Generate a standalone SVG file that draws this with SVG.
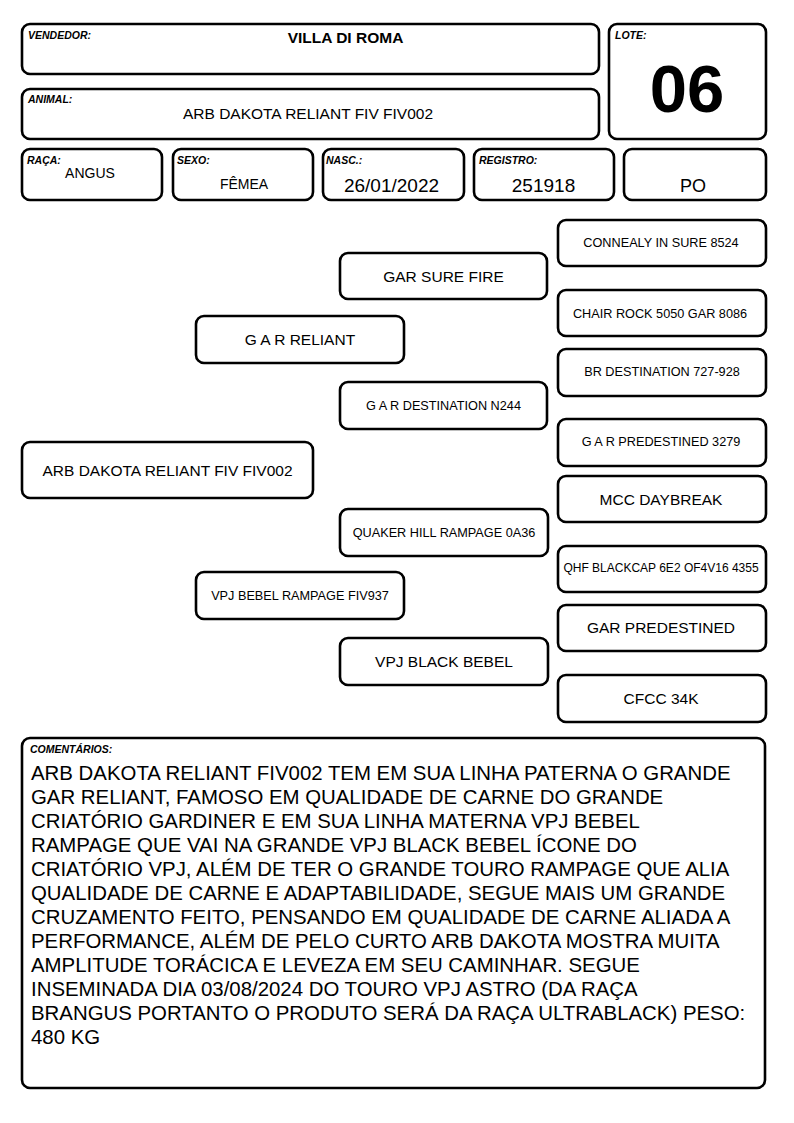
<svg xmlns="http://www.w3.org/2000/svg" width="794" height="1123" viewBox="0 0 794 1123">
<style>
.box{fill:#fff;stroke:#000;stroke-width:2.6}
.lbl{font-family:"Liberation Sans",Arial,sans-serif;font-weight:bold;font-style:italic;font-size:10.5px;fill:#000}
.val{font-family:"Liberation Sans",Arial,sans-serif;fill:#000;text-anchor:middle}
.big{font-size:15.5px}
.sm{font-size:12.7px}
.cm{font-family:"Liberation Sans",Arial,sans-serif;font-size:20.4px;fill:#000}
</style>
<rect width="794" height="1123" fill="#fff"/>
<g id="vendedor">
<rect class="box" x="22" y="24" width="577" height="50" rx="8"/>
<text class="lbl" x="28" y="39">VENDEDOR:</text>
<text class="val" x="345.5" y="43" font-size="15.5" font-weight="bold">VILLA DI ROMA</text>
</g>
<g id="animal">
<rect class="box" x="22" y="89" width="577" height="50" rx="8"/>
<text class="lbl" x="28" y="103">ANIMAL:</text>
<text class="val big" x="308" y="119">ARB DAKOTA RELIANT FIV FIV002</text>
</g>
<g id="lote">
<rect class="box" x="609" y="24" width="157" height="115" rx="8"/>
<text class="lbl" x="615" y="39">LOTE:</text>
<text class="val" x="687" y="112" font-size="67" font-weight="bold">06</text>
</g>
<g id="raca">
<rect class="box" x="22" y="149" width="140" height="51" rx="8"/>
<text class="lbl" x="27" y="164">RAÇA:</text>
<text class="val" x="90" y="178" font-size="14">ANGUS</text>
</g>
<g id="sexo">
<rect class="box" x="173" y="149" width="140" height="51" rx="8"/>
<text class="lbl" x="177" y="164">SEXO:</text>
<text class="val" x="244" y="189" font-size="14">FÊMEA</text>
</g>
<g id="nasc">
<rect class="box" x="323" y="149" width="141" height="51" rx="8"/>
<text class="lbl" x="326" y="164">NASC.:</text>
<text class="val" x="391.5" y="192" font-size="19">26/01/2022</text>
</g>
<g id="registro">
<rect class="box" x="474" y="149" width="140" height="51" rx="8"/>
<text class="lbl" x="479" y="164">REGISTRO:</text>
<text class="val" x="543.5" y="192" font-size="19">251918</text>
</g>
<g id="po">
<rect class="box" x="624" y="149" width="142" height="51" rx="8"/>
<text class="val" x="693" y="192" font-size="18">PO</text>
</g>
<g id="connectors"/>
<g id="n-animal">
<rect class="box" x="22" y="442" width="291" height="56" rx="8"/>
<text class="val big" x="167.5" y="475.5">ARB DAKOTA RELIANT FIV FIV002</text>
</g>
<g id="n-gar-reliant">
<rect class="box" x="196" y="316" width="208" height="47" rx="8"/>
<text class="val big" x="300" y="345">G A R RELIANT</text>
</g>
<g id="n-vpj-bebel-rampage">
<rect class="box" x="196" y="572" width="208" height="47" rx="8"/>
<text class="val sm" x="300" y="600">VPJ BEBEL RAMPAGE FIV937</text>
</g>
<g id="n-gar-sure-fire">
<rect class="box" x="340" y="253" width="207" height="46" rx="8"/>
<text class="val big" x="443.5" y="281.5">GAR SURE FIRE</text>
</g>
<g id="n-gar-destination">
<rect class="box" x="340" y="382" width="207" height="47" rx="8"/>
<text class="val sm" x="443.5" y="410">G A R DESTINATION N244</text>
</g>
<g id="n-quaker-hill">
<rect class="box" x="340" y="509" width="208" height="47" rx="8"/>
<text class="val sm" x="444" y="537">QUAKER HILL RAMPAGE 0A36</text>
</g>
<g id="n-vpj-black-bebel">
<rect class="box" x="340" y="638" width="208" height="47" rx="8"/>
<text class="val big" x="444" y="667">VPJ BLACK BEBEL</text>
</g>
<g id="n-connealy">
<rect class="box" x="558" y="220" width="208" height="46" rx="8"/>
<text class="val sm" x="661" y="247">CONNEALY IN SURE 8524</text>
</g>
<g id="n-chair-rock">
<rect class="box" x="558" y="290" width="208" height="46" rx="8"/>
<text class="val sm" x="660" y="317.5">CHAIR ROCK 5050 GAR 8086</text>
</g>
<g id="n-br-destination">
<rect class="box" x="558" y="349" width="208" height="47" rx="8"/>
<text class="val sm" x="662" y="376">BR DESTINATION 727-928</text>
</g>
<g id="n-gar-predestined-3279">
<rect class="box" x="558" y="419" width="208" height="47" rx="8"/>
<text class="val sm" x="661" y="446">G A R PREDESTINED 3279</text>
</g>
<g id="n-mcc-daybreak">
<rect class="box" x="558" y="476" width="208" height="46" rx="8"/>
<text class="val big" x="661" y="504.5">MCC DAYBREAK</text>
</g>
<g id="n-qhf-blackcap">
<rect class="box" x="558" y="546" width="208" height="46" rx="8"/>
<text class="val" x="661" y="572" font-size="12">QHF BLACKCAP 6E2 OF4V16 4355</text>
</g>
<g id="n-gar-predestined">
<rect class="box" x="558" y="605" width="208" height="46" rx="8"/>
<text class="val big" x="661" y="633">GAR PREDESTINED</text>
</g>
<g id="n-cfcc">
<rect class="box" x="558" y="675" width="208" height="47" rx="8"/>
<text class="val big" x="661" y="703.5">CFCC 34K</text>
</g>
<g id="comentarios">
<rect class="box" x="22" y="738" width="743" height="350" rx="8"/>
<text class="lbl" x="30" y="753">COMENTÁRIOS:</text>
<text class="cm" x="31" y="780">ARB DAKOTA RELIANT FIV002 TEM EM SUA LINHA PATERNA O GRANDE</text>
<text class="cm" x="31" y="804">GAR RELIANT, FAMOSO EM QUALIDADE DE CARNE DO GRANDE</text>
<text class="cm" x="31" y="828">CRIATÓRIO GARDINER E EM SUA LINHA MATERNA VPJ BEBEL</text>
<text class="cm" x="31" y="852">RAMPAGE QUE VAI NA GRANDE VPJ BLACK BEBEL ÍCONE DO</text>
<text class="cm" x="31" y="876">CRIATÓRIO VPJ, ALÉM DE TER O GRANDE TOURO RAMPAGE QUE ALIA</text>
<text class="cm" x="31" y="900">QUALIDADE DE CARNE E ADAPTABILIDADE, SEGUE MAIS UM GRANDE</text>
<text class="cm" x="31" y="924">CRUZAMENTO FEITO, PENSANDO EM QUALIDADE DE CARNE ALIADA A</text>
<text class="cm" x="31" y="948">PERFORMANCE, ALÉM DE PELO CURTO ARB DAKOTA MOSTRA MUITA</text>
<text class="cm" x="31" y="972">AMPLITUDE TORÁCICA E LEVEZA EM SEU CAMINHAR. SEGUE</text>
<text class="cm" x="31" y="996">INSEMINADA DIA 03/08/2024 DO TOURO VPJ ASTRO (DA RAÇA</text>
<text class="cm" x="31" y="1020">BRANGUS PORTANTO O PRODUTO SERÁ DA RAÇA ULTRABLACK) PESO:</text>
<text class="cm" x="31" y="1044">480 KG</text>
</g>
</svg>
